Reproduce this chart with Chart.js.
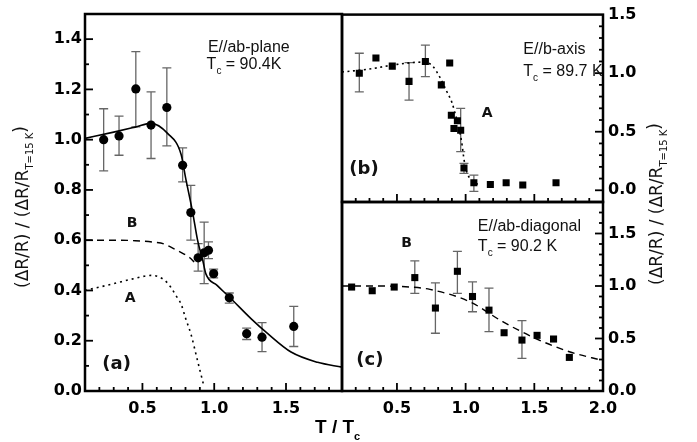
<!DOCTYPE html>
<html><head><meta charset="utf-8">
<script src="https://cdn.jsdelivr.net/npm/chart.js@4/dist/chart.umd.min.js"></script>
<style>
html,body{margin:0;padding:0;background:#fff;}
#wrap{position:relative;width:697px;height:442px;background:#fff;}
canvas{position:absolute;left:0;top:0;}
</style></head><body>
<div id="wrap">
<canvas id="ca" width="697" height="442"></canvas>
<canvas id="cb" width="697" height="442"></canvas>
<canvas id="cc" width="697" height="442"></canvas>
</div>
<script>
// ---------- Panel (a): E//ab-plane ----------
const aT   = [0.23, 0.337, 0.454, 0.56, 0.67, 0.78, 0.837, 0.888, 0.93, 0.96, 0.996, 1.105, 1.226, 1.333, 1.554];
const aVal = [1.0, 1.015, 1.202, 1.058, 1.128, 0.898, 0.71, 0.53, 0.55, 0.56, 0.467, 0.371, 0.228, 0.214, 0.257];
const aHi  = [1.123, 1.094, 1.35, 1.19, 1.286, 0.967, 0.818, 0.586, 0.672, 0.593, 0.485, 0.39, 0.25, 0.272, 0.337];
const aLo  = [0.876, 0.938, 1.051, 0.925, 0.975, 0.832, 0.60, 0.477, 0.427, 0.527, 0.45, 0.35, 0.205, 0.157, 0.177];
const aFitT = [0.1, 0.3, 0.45, 0.56, 0.675, 0.77, 0.80, 0.85, 0.884, 0.92, 0.942, 1.02, 1.105, 1.256, 1.373, 1.535, 1.72, 1.89];
const aFitV = [1.005, 1.03, 1.05, 1.065, 1.025, 0.94, 0.85, 0.71, 0.60, 0.52, 0.466, 0.42, 0.374, 0.288, 0.228, 0.155, 0.114, 0.095];
const aBT = [0.1, 0.3, 0.45, 0.58, 0.65, 0.73, 0.79, 0.83, 0.86];
const aBV = [0.6, 0.6, 0.598, 0.592, 0.585, 0.563, 0.545, 0.53, 0.513];
const aAT = [0.1, 0.3, 0.44, 0.56, 0.65, 0.70, 0.733, 0.77, 0.80, 0.837, 0.884, 0.93];
const aAV = [0.40, 0.427, 0.447, 0.46, 0.443, 0.411, 0.38, 0.345, 0.29, 0.228, 0.12, 0.015];
const aXTicks = [0.5, 1.0, 1.5];
const aYTicks = [0.0, 0.2, 0.4, 0.6, 0.8, 1.0, 1.2, 1.4];

// ---------- Panel (b): E//b-axis ----------
const bT   = [0.226, 0.347, 0.466, 0.588, 0.707, 0.823, 0.884, 0.896, 0.915, 0.94, 0.964, 0.988, 1.06, 1.18, 1.295, 1.416, 1.658];
const bVal = [1.0, 1.13, 1.06, 0.93, 1.10, 0.90, 1.087, 0.64, 0.527, 0.593, 0.513, 0.19, 0.064, 0.05, 0.064, 0.045, 0.064];
const bHi  = [1.17, null, null, 1.09, 1.24, null, null, null, null, null, 0.70, 0.23, 0.13, null, null, null, null];
const bLo  = [0.84, null, null, 0.77, 0.97, null, null, null, null, null, 0.33, 0.144, -0.01, null, null, null, null];
const bFitT = [0.1, 0.3, 0.5, 0.7, 0.76, 0.81, 0.86, 0.9, 0.94, 0.97, 0.99, 1.01, 1.04, 1.07, 1.1];
const bFitV = [1.01, 1.035, 1.075, 1.095, 1.06, 0.97, 0.85, 0.75, 0.58, 0.42, 0.25, 0.15, 0.09, 0.06, 0.05];
const bYTicks = [0.0, 0.5, 1.0, 1.5];

// ---------- Panel (c): E//ab-diagonal ----------
const cT   = [0.17, 0.32, 0.48, 0.63, 0.78, 0.94, 1.05, 1.17, 1.28, 1.41, 1.52, 1.64, 1.755];
const cVal = [0.99, 0.955, 0.99, 1.08, 0.79, 1.14, 0.90, 0.77, 0.555, 0.485, 0.53, 0.495, 0.32];
const cHi  = [null, null, null, 1.24, 1.03, 1.33, 1.04, 0.98, null, 0.67, null, null, null];
const cLo  = [null, null, null, 0.93, 0.55, 0.93, 0.755, 0.565, null, 0.31, null, null, null];
const cFitT = [0.1, 0.3, 0.6, 0.74, 1.03, 1.27, 1.51, 1.755, 2.0];
const cFitV = [1.0, 1.0, 0.99, 0.968, 0.85, 0.66, 0.50, 0.374, 0.29];
const cXTicks = [0.5, 1.0, 1.5, 2.0];
const cYTicks = [0.0, 0.5, 1.0, 1.5];

// ---------- helpers ----------
const TICKFONT = {family: 'DejaVu Sans', size: 16, weight: 'bold'};
const NORM = '16px "Liberation Sans", Arial, sans-serif';
const SUB = '10px "Liberation Sans", Arial, sans-serif';

function pts(xs, ys) { return xs.map((x, i) => ({x: x, y: ys[i]})); }

function drawParts(ctx, x, y, parts, align) {
  let total = 0;
  parts.forEach(p => { ctx.font = p.font; total += ctx.measureText(p.t).width; });
  let cx = align === 'center' ? x - total / 2 : x;
  parts.forEach(p => {
    ctx.font = p.font;
    ctx.fillText(p.t, cx, y + (p.dy || 0));
    cx += ctx.measureText(p.t).width;
  });
}

function decoPlugin(cfg) {
  return {
    id: 'deco',
    beforeDatasetsDraw(chart) {
      const ctx = chart.ctx, xs = chart.scales.x, ys = chart.scales.y;
      ctx.save();
      ctx.strokeStyle = '#666'; ctx.lineWidth = 1.3;
      chart.data.datasets.forEach(ds => {
        if (!ds.errHi) return;
        ds.data.forEach((p, i) => {
          const hi = ds.errHi[i], lo = ds.errLo[i];
          if (hi == null || lo == null) return;
          const px = xs.getPixelForValue(p.x);
          const y1 = ys.getPixelForValue(hi), y2 = ys.getPixelForValue(lo);
          ctx.beginPath();
          ctx.moveTo(px, y1); ctx.lineTo(px, y2);
          ctx.moveTo(px - 4.5, y1); ctx.lineTo(px + 4.5, y1);
          ctx.moveTo(px - 4.5, y2); ctx.lineTo(px + 4.5, y2);
          ctx.stroke();
        });
      });
      ctx.restore();
    },
    afterDraw(chart) {
      const ctx = chart.ctx, a = chart.chartArea;
      const xs = chart.scales.x, ys = chart.scales.y;
      ctx.save();
      // inward tick marks
      ctx.strokeStyle = '#000'; ctx.lineWidth = 1.8;
      cfg.ticks.forEach(t => {
        const s = chart.scales[t.axis];
        const step = 0.1;
        const start = Math.ceil(s.min / step - 1e-6);
        const end = Math.floor(s.max / step + 1e-6);
        for (let k = start; k <= end; k++) {
          const v = k * step;
          const major = t.majors.some(m => Math.abs(m - v) < 1e-6);
          const len = major ? 8 : 4;
          const p = s.getPixelForValue(v);
          ctx.beginPath();
          if (t.side === 'bottom') {
            if (p < a.left + 2 || p > a.right - 2) continue;
            ctx.moveTo(p, a.bottom); ctx.lineTo(p, a.bottom - len);
          } else if (t.side === 'left') {
            if (p < a.top + 2 || p > a.bottom - 2) continue;
            ctx.moveTo(a.left, p); ctx.lineTo(a.left + len, p);
          } else {
            if (p < a.top + 2 || p > a.bottom - 2) continue;
            ctx.moveTo(a.right, p); ctx.lineTo(a.right - len, p);
          }
          ctx.stroke();
        }
      });
      // frame
      ctx.lineWidth = 2.5;
      ctx.strokeRect(a.left, a.top, a.right - a.left, a.bottom - a.top);
      // annotations in data coordinates
      ctx.fillStyle = '#111';
      cfg.texts.forEach(tx => {
        ctx.textBaseline = tx.baseline || 'alphabetic';
        ctx.textAlign = 'left';
        drawParts(ctx, xs.getPixelForValue(tx.x), ys.getPixelForValue(tx.y), tx.parts, tx.align);
      });
      if (cfg.extra) cfg.extra(ctx);
      ctx.restore();
    }
  };
}

function yTitle(ctx, cx, cy) {
  ctx.save();
  ctx.translate(cx, cy);
  ctx.rotate(-Math.PI / 2);
  ctx.fillStyle = '#111';
  ctx.textBaseline = 'middle';
  drawParts(ctx, 0, 0, [
    {t: '(\u0394R/R) / (\u0394R/R', font: '17px "DejaVu Sans", sans-serif'},
    {t: 'T=15 K', font: '10px "DejaVu Sans", sans-serif', dy: 6},
    {t: ')', font: '17px "DejaVu Sans", sans-serif', dy: -2}
  ], 'center');
  ctx.restore();
}

function baseOptions(o) {
  return {
    responsive: false,
    animation: false,
    devicePixelRatio: 1,
    events: [],
    layout: {padding: o.padding},
    plugins: {legend: {display: false}, tooltip: {enabled: false}},
    scales: {
      x: {
        type: 'linear', min: o.xmin, max: o.xmax, position: 'bottom',
        border: {display: false},
        grid: {display: false, drawTicks: false},
        ticks: {display: o.xticks != null, font: TICKFONT, color: '#000', padding: 8, maxRotation: 0, autoSkip: false,
                callback: v => Number(v).toFixed(1)},
        afterBuildTicks: s => { if (o.xticks) s.ticks = o.xticks.map(v => ({value: v})); },
        afterFit: s => { s.height = o.xh; }
      },
      y: {
        type: 'linear', min: o.ymin, max: o.ymax, position: o.ypos,
        border: {display: false},
        grid: {display: false, drawTicks: false},
        ticks: {font: TICKFONT, color: '#000', padding: o.ypos === 'left' ? 3 : 5, autoSkip: false,
                callback: v => Number(v).toFixed(1)},
        afterBuildTicks: s => { s.ticks = o.yticks.map(v => ({value: v})); },
        afterFit: s => { s.width = o.yw; }
      }
    }
  };
}

function tcParts(val) {
  return [{t: 'T', font: NORM}, {t: 'c', font: SUB, dy: 5}, {t: ' = ' + val, font: NORM}];
}
const BOLD14 = 'bold 14px "DejaVu Sans", sans-serif';
const BOLD18 = 'bold 18px "DejaVu Sans", sans-serif';

// ---------- Chart (a) ----------
new Chart(document.getElementById('ca'), {
  type: 'scatter',
  data: {datasets: [
    {data: pts(aFitT, aFitV), showLine: true, borderColor: '#000', borderWidth: 1.6, pointRadius: 0, cubicInterpolationMode: 'monotone'},
    {data: pts(aBT, aBV), showLine: true, borderColor: '#000', borderWidth: 1.4, borderDash: [7, 5], pointRadius: 0, cubicInterpolationMode: 'monotone'},
    {data: pts(aAT, aAV), showLine: true, borderColor: '#000', borderWidth: 1.6, borderDash: [2, 4], pointRadius: 0, cubicInterpolationMode: 'monotone'},
    {data: pts(aT, aVal), errHi: aHi, errLo: aLo, showLine: false, pointStyle: 'circle', pointRadius: 4.6, backgroundColor: '#000', borderColor: '#000', borderWidth: 0}
  ]},
  options: baseOptions({padding: {left: 0, top: 14, right: 355, bottom: 0}, xmin: 0.1, xmax: 1.89, xticks: aXTicks, xh: 51,
                        ymin: 0, ymax: 1.5, ypos: 'left', yticks: aYTicks, yw: 85}),
  plugins: [decoPlugin({
    ticks: [{axis: 'x', side: 'bottom', majors: aXTicks}, {axis: 'y', side: 'left', majors: aYTicks}],
    texts: [
      {x: 0.956, y: 1.35, parts: [{t: 'E//ab-plane', font: NORM}]},
      {x: 0.947, y: 1.28, parts: tcParts('90.4K')},
      {x: 0.428, y: 0.666, parts: [{t: 'B', font: BOLD14}], align: 'center', baseline: 'middle'},
      {x: 0.415, y: 0.367, parts: [{t: 'A', font: BOLD14}], align: 'center', baseline: 'middle'},
      {x: 0.32, y: 0.108, parts: [{t: '(a)', font: BOLD18}], align: 'center', baseline: 'middle'}
    ],
    extra: ctx => {
      yTitle(ctx, 24, 207);
      ctx.fillStyle = '#000';
      ctx.textBaseline = 'alphabetic';
      ctx.textAlign = 'left';
      drawParts(ctx, 315, 433, [
        {t: 'T / T', font: 'bold 19px "Liberation Sans", Arial, sans-serif'},
        {t: 'c', font: 'bold 11px "Liberation Sans", Arial, sans-serif', dy: 7}
      ]);
    }
  })]
});

// ---------- Chart (b) ----------
new Chart(document.getElementById('cb'), {
  type: 'scatter',
  data: {datasets: [
    {data: pts(bFitT, bFitV), showLine: true, borderColor: '#000', borderWidth: 1.6, borderDash: [2, 3.5], pointRadius: 0, cubicInterpolationMode: 'monotone'},
    {data: pts(bT, bVal), errHi: bHi, errLo: bLo, showLine: false, pointStyle: 'rect', pointRadius: 5, backgroundColor: '#000', borderColor: '#000', borderWidth: 0}
  ]},
  options: baseOptions({padding: {left: 342, top: 14, right: 0, bottom: 0}, xmin: 0.1, xmax: 2.0, xticks: null, xh: 240,
                        ymin: -0.1, ymax: 1.5, ypos: 'right', yticks: bYTicks, yw: 94}),
  plugins: [decoPlugin({
    ticks: [{axis: 'x', side: 'bottom', majors: cXTicks}, {axis: 'y', side: 'right', majors: bYTicks}],
    texts: [
      {x: 1.42, y: 1.165, parts: [{t: 'E//b-axis', font: NORM}]},
      {x: 1.42, y: 0.98, parts: tcParts('89.7 K')},
      {x: 1.156, y: 0.66, parts: [{t: 'A', font: BOLD14}], align: 'center', baseline: 'middle'},
      {x: 0.26, y: 0.18, parts: [{t: '(b)', font: BOLD18}], align: 'center', baseline: 'middle'}
    ],
    extra: ctx => { yTitle(ctx, 658, 204); }
  })]
});

// ---------- Chart (c) ----------
new Chart(document.getElementById('cc'), {
  type: 'scatter',
  data: {datasets: [
    {data: pts(cFitT, cFitV), showLine: true, borderColor: '#000', borderWidth: 1.4, borderDash: [7, 5], pointRadius: 0, cubicInterpolationMode: 'monotone'},
    {data: pts(cT, cVal), errHi: cHi, errLo: cLo, showLine: false, pointStyle: 'rect', pointRadius: 5, backgroundColor: '#000', borderColor: '#000', borderWidth: 0}
  ]},
  options: baseOptions({padding: {left: 342, top: 202, right: 0, bottom: 0}, xmin: 0.1, xmax: 2.0, xticks: cXTicks, xh: 51,
                        ymin: 0, ymax: 1.8, ypos: 'right', yticks: cYTicks, yw: 94}),
  plugins: [decoPlugin({
    ticks: [{axis: 'x', side: 'bottom', majors: cXTicks}, {axis: 'y', side: 'right', majors: cYTicks}],
    texts: [
      {x: 1.089, y: 1.524, parts: [{t: 'E//ab-diagonal', font: NORM}]},
      {x: 1.089, y: 1.333, parts: tcParts('90.2 K')},
      {x: 0.57, y: 1.407, parts: [{t: 'B', font: BOLD14}], align: 'center', baseline: 'middle'},
      {x: 0.303, y: 0.295, parts: [{t: '(c)', font: BOLD18}], align: 'center', baseline: 'middle'}
    ]
  })]
});
</script>
</body></html>
